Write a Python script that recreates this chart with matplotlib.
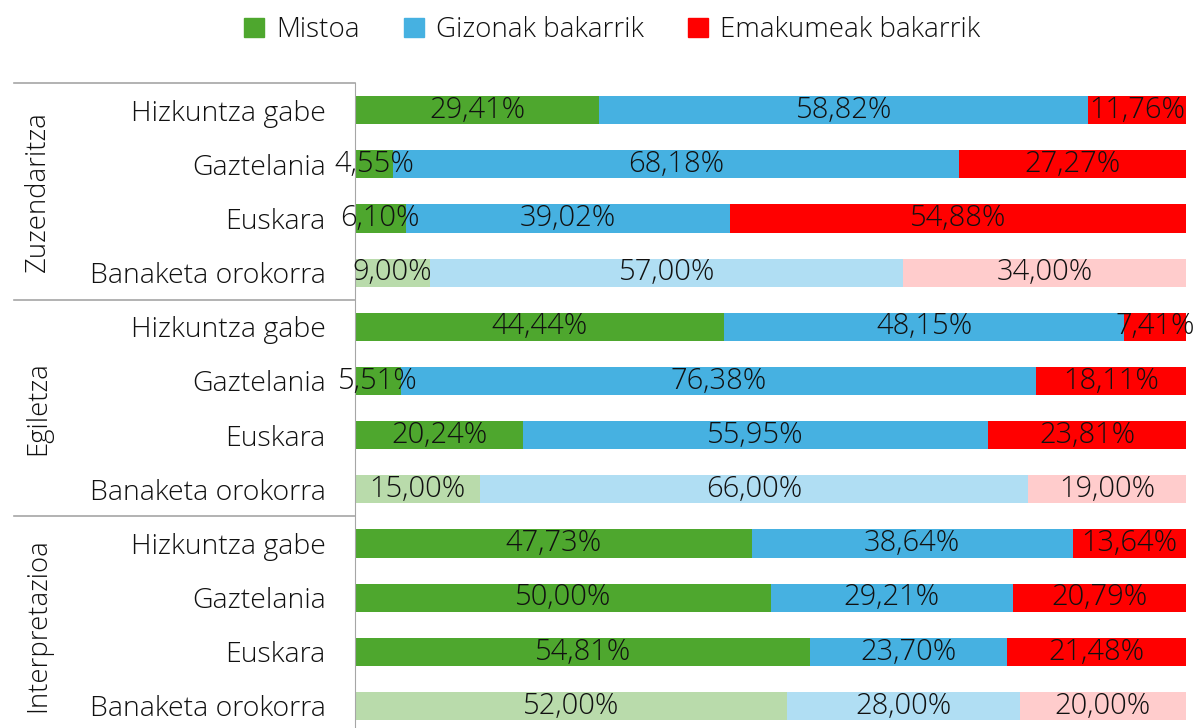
import numpy as np
import matplotlib.pyplot as plt
from matplotlib.patches import Patch
from matplotlib.lines import Line2D

plt.rcParams['font.family'] = ['Open Sans', 'DejaVu Sans']

groups = ["Zuzendaritza", "Egiletza", "Interpretazioa"]
rows = ["Hizkuntza gabe", "Gaztelania", "Euskara", "Banaketa orokorra"]
series = ["Mistoa", "Gizonak bakarrik", "Emakumeak bakarrik"]

mistoa = [29.41, 4.55, 6.10, 9.00,
          44.44, 5.51, 20.24, 15.00,
          47.73, 50.00, 54.81, 52.00]
gizonak = [58.82, 68.18, 39.02, 57.00,
           48.15, 76.38, 55.95, 66.00,
           38.64, 29.21, 23.70, 28.00]
emakumeak = [11.76, 27.27, 54.88, 34.00,
             7.41, 18.11, 23.81, 19.00,
             13.64, 20.79, 21.48, 20.00]

dark = ["#4EA72E", "#46B1E1", "#FF0000"]
light = ["#B9DBAB", "#B0DEF3", "#FFCCCC"]

W, H = 1196, 728
fig = plt.figure(figsize=(W / 100, H / 100), dpi=100)
ax = fig.add_axes([355 / W, 1 - 733 / H, (1186 - 355) / W, (733 - 83) / H])

n = len(mistoa)
ypos = np.arange(n)
fs_lab = 20.5
fs_val = 21
vals = [mistoa, gizonak, emakumeak]
left = np.zeros(n)
for k, v in enumerate(vals):
    v = np.array(v)
    cols = [light[k] if i % 4 == 3 else dark[k] for i in range(n)]
    ax.barh(ypos, v, left=left, height=0.52, color=cols)
    for i in range(n):
        ax.text(left[i] + v[i] / 2, ypos[i], f"{v[i]:.2f}%".replace(".", ","),
                ha="center", va="center", fontsize=fs_val, color="#111111",
                fontweight="light")
    left += v

ax.set_xlim(0, 100)
ax.set_ylim(n - 0.5, -0.5)
ax.set_xticks([])
ax.set_yticks(ypos)
ax.set_yticklabels(rows * 3, fontsize=fs_lab, fontweight="light", color="#111111")
ax.tick_params(axis="y", length=0, pad=21)
for s in ["top", "right", "bottom"]:
    ax.spines[s].set_visible(False)
ax.spines["left"].set_color("#a6a6a6")

# group separators and labels
x0 = 14 / W
x1 = 355 / W
for g in range(len(groups) + 1):
    yb = g * 4 - 0.5
    yf = fig.transFigure.inverted().transform(ax.transData.transform((0, yb)))[1]
    fig.add_artist(Line2D([x0, x1], [yf, yf], color="#a6a6a6", lw=1.2,
                          transform=fig.transFigure))
for g, name in enumerate(groups):
    yc = g * 4 + 1.5
    yf = fig.transFigure.inverted().transform(ax.transData.transform((0, yc)))[1]
    fig.text(38 / W, yf, name, rotation=90, ha="center", va="center",
             fontsize=19.8, fontweight="light", color="#111111")

handles = [Patch(color=c) for c in dark]
fig.legend(handles, series, loc="upper center", bbox_to_anchor=(0.512, 1.012),
           ncol=3, frameon=False, handlelength=0.7,
           handleheight=0.7, handletextpad=0.45, columnspacing=1.6,
           prop={"size": 20, "weight": "light"}, labelcolor="#111111")

fig.savefig("out.png", dpi=100)
